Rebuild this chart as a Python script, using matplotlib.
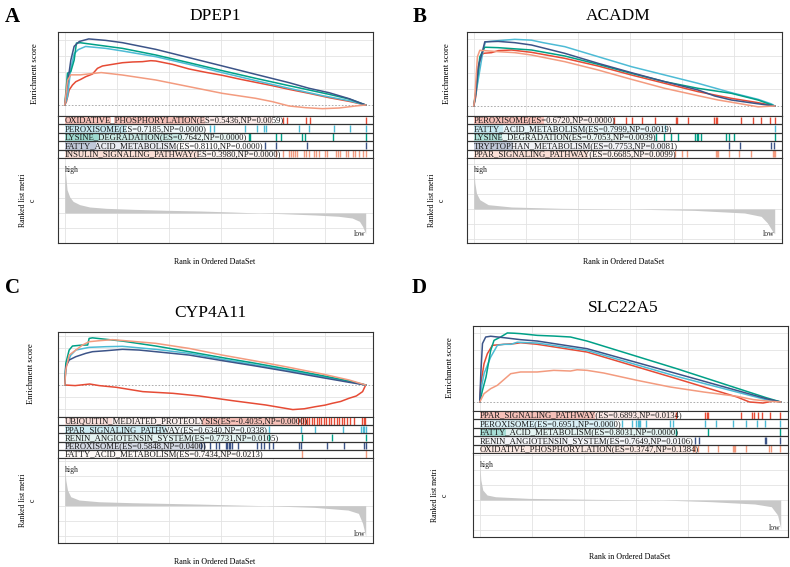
import matplotlib
matplotlib.use('Agg')
import matplotlib.pyplot as plt
from matplotlib.transforms import blended_transform_factory
from matplotlib.patches import Rectangle

plt.rcParams['font.family'] = ['Liberation Serif', 'DejaVu Serif']

W, H = 790, 567
COLORS = ['#E64B35', '#4DBBD5', '#00A087', '#3C5488', '#F39B7F']
N_K = 28.9  # ranks (thousands)

# ---------------- Panel A: DPEP1 ----------------
A_title = "DPEP1"
A_sets = ["OXIDATIVE_PHOSPHORYLATION", "PEROXISOME", "LYSINE_DEGRADATION",
          "FATTY_ACID_METABOLISM", "INSULIN_SIGNALING_PATHWAY"]
A_es = [0.5436, 0.7185, 0.7642, 0.8110, 0.3980]
A_np = [0.0059, 0.0000, 0.0000, 0.0000, 0.0000]
A_curve_rank = [
    [0, 0.16, 0.42, 0.74, 1.06, 1.54, 2.02, 2.66, 3.14, 3.62, 4.58, 5.54, 6.5, 7.46, 8.26, 8.74, 10.34, 11.94, 13.54, 15.14, 16.74, 18.34, 19.94, 21.54, 23.46, 25.38, 27.3, 28.9],
    [0, 0.26, 0.58, 0.9, 1.3, 2.0, 3.94, 5.54, 8.74, 11.94, 15.14, 18.34, 21.54, 24.74, 27.3, 28.9],
    [0, 0.26, 0.58, 0.9, 1.12, 1.5, 3.14, 5.54, 8.74, 11.94, 15.14, 18.34, 21.54, 23.46, 25.38, 27.3, 28.9],
    [0, 0.2, 0.58, 0.9, 1.4, 2.3, 3.94, 5.54, 8.74, 11.94, 15.14, 18.34, 21.54, 23.46, 25.38, 27.3, 28.9],
    [0, 0.26, 0.58, 1.5, 3.5, 5.54, 8.74, 11.94, 15.14, 18.34, 19.94, 21.54, 23.14, 24.74, 26.34, 27.94, 28.9],
]
A_curve_score = [
    [0, 0.041, 0.184, 0.245, 0.286, 0.315, 0.348, 0.38, 0.45, 0.479, 0.499, 0.519, 0.528, 0.532, 0.544, 0.54, 0.499, 0.442, 0.401, 0.364, 0.319, 0.278, 0.237, 0.192, 0.143, 0.09, 0.045, 0],
    [0, 0.1, 0.45, 0.63, 0.68, 0.7185, 0.695, 0.663, 0.593, 0.499, 0.397, 0.299, 0.205, 0.115, 0.053, 0],
    [0, 0.39, 0.41, 0.55, 0.76, 0.7642, 0.736, 0.695, 0.614, 0.519, 0.421, 0.327, 0.237, 0.184, 0.131, 0.074, 0],
    [0, 0.2, 0.55, 0.72, 0.78, 0.811, 0.793, 0.765, 0.683, 0.581, 0.479, 0.376, 0.274, 0.205, 0.151, 0.078, 0],
    [0, 0.3, 0.37, 0.37, 0.398, 0.368, 0.307, 0.225, 0.143, 0.082, 0.041, -0.012, -0.033, -0.045, -0.037, -0.012, 0],
]
A_hits = [
    [20.96, 21.34, 23.2, 23.58, 28.9],
    [13.92, 14.34, 17.28, 18.5, 19.14, 19.36, 22.5, 23.46, 25.86, 27.36, 28.9],
    [17.7, 17.8, 20.32, 20.74, 22.75, 23.07, 25.76, 28.9],
    [19.2, 20.26, 23.3, 28.9],
    [20.26, 20.96, 21.54, 21.7, 21.92, 22.11, 22.34, 22.98, 23.2, 23.46, 23.94, 24.16, 24.42, 25.0, 25.2, 26.0, 26.2, 26.4, 27.0, 27.2, 27.7, 27.9, 28.3, 28.6, 28.9],
]
A_dense = [
    [(0, 4.4, 0.5), (4.7, 12.0, 0.5), (12.0, 13.5, 0.4), (13.5, 20.0, 0.15)],
    [(0, 5.9, 0.45), (5.9, 13.5, 0.12)],
    [(0, 3.3, 0.55), (3.3, 11.3, 0.3), (11.3, 16.7, 0.12)],
    [(0, 3.0, 0.45), (3.0, 10.5, 0.15)],
    [(0, 12.9, 0.45), (12.9, 19.6, 0.15)],
]
A_metric_rank = [0, 0.1, 0.22, 0.48, 0.8, 1.44, 2.39, 3.99, 6.55, 9.74, 12.9, 16.1, 18.7, 20.9, 24.1, 26.3, 27.6, 28.3, 28.6, 28.9]
A_metric = [0.666, 0.49, 0.31, 0.213, 0.155, 0.111, 0.08, 0.062, 0.049, 0.036, 0.027, 0.013, 0, -0.009, -0.027, -0.044, -0.067, -0.111, -0.178, -0.275]

# ---------------- Panel B: ACADM ----------------
B_title = "ACADM"
B_sets = ["PEROXISOME", "FATTY_ACID_METABOLISM", "LYSINE_DEGRADATION",
          "TRYPTOPHAN_METABOLISM", "PPAR_SIGNALING_PATHWAY"]
B_es = [0.6720, 0.7999, 0.7053, 0.7753, 0.6685]
B_np = [0.0000, 0.0019, 0.0039, 0.0081, 0.0099]
B_curve_rank = [
    [0, 0.19, 0.58, 0.9, 1.7, 2.34, 3.62, 5.54, 8.74, 11.94, 15.14, 18.34, 21.54, 24.74, 27.3, 28.9],
    [0, 0.26, 0.58, 0.9, 1.12, 2.34, 3.94, 5.54, 6.66, 8.74, 11.94, 15.14, 18.34, 21.54, 24.74, 27.3, 28.6, 28.9],
    [0, 0.26, 0.58, 1.06, 2.34, 5.54, 8.74, 11.94, 15.14, 18.34, 21.54, 24.74, 27.3, 28.9],
    [0, 0.19, 0.42, 0.74, 1.06, 2.34, 3.94, 5.54, 8.74, 11.94, 15.14, 18.34, 21.54, 23.14, 24.74, 26.98, 28.9],
    [0, 0.1, 0.35, 0.58, 2.34, 3.94, 5.54, 8.74, 11.94, 15.14, 18.34, 21.54, 23.46, 25.38, 27.3, 28.9],
]
B_curve_score = [
    [0, 0.11, 0.55, 0.632, 0.64, 0.664, 0.672, 0.644, 0.572, 0.48, 0.372, 0.272, 0.172, 0.092, 0.04, 0],
    [0, 0.19, 0.43, 0.67, 0.77, 0.784, 0.7999, 0.79, 0.76, 0.712, 0.592, 0.472, 0.372, 0.272, 0.16, 0.08, 0.024, 0],
    [0, 0.23, 0.59, 0.7053, 0.70, 0.672, 0.60, 0.50, 0.392, 0.292, 0.212, 0.152, 0.072, 0],
    [0, 0.15, 0.47, 0.61, 0.77, 0.7753, 0.76, 0.732, 0.632, 0.512, 0.40, 0.292, 0.192, 0.12, 0.072, 0.032, 0],
    [0, 0.11, 0.59, 0.6685, 0.652, 0.64, 0.612, 0.532, 0.432, 0.32, 0.212, 0.124, 0.072, 0.032, -0.01, 0],
]
B_hits = [
    [13.5, 14.6, 15.2, 16.2, 17.4, 19.4, 19.5, 20.6, 23.1, 23.3, 23.4, 25.7, 26.8, 27.6, 28.4, 28.9],
    [18.4, 28.9],
    [17.5, 18.3, 18.9, 19.6, 21.2, 21.4, 21.5, 21.8, 24.2, 24.5, 25.0, 28.9],
    [24.5, 25.6, 28.5, 28.8],
    [19.3, 20.0, 20.5, 23.3, 23.4, 23.5, 24.5, 25.5, 26.6, 28.7, 28.8, 28.9],
]
B_dense = [
    [(0, 6.7, 0.5), (6.7, 12.7, 0.12)],
    [(0, 2.8, 0.45), (2.8, 18.3, 0.18)],
    [(0, 2.7, 0.45), (2.7, 17.5, 0.12)],
    [(0, 3.8, 0.45), (3.8, 18.6, 0.1)],
    [(0, 11.0, 0.45), (11.0, 18.8, 0.18)],
]
B_metric_rank = [0, 0.1, 0.26, 0.58, 1.38, 3.62, 8.4, 14.8, 21.2, 26.0, 27.6, 28.2, 28.7, 28.9]
B_metric = [0.57, 0.35, 0.21, 0.124, 0.058, 0.027, 0.009, 0, -0.018, -0.053, -0.098, -0.186, -0.298, -0.33]

# ---------------- Panel C: CYP4A11 ----------------
C_title = "CYP4A11"
C_sets = ["UBIQUITIN_MEDIATED_PROTEOLYSIS", "PPAR_SIGNALING_PATHWAY",
          "RENIN_ANGIOTENSIN_SYSTEM", "PEROXISOME", "FATTY_ACID_METABOLISM"]
C_es = [-0.4035, 0.6340, 0.7731, 0.5848, 0.7434]
C_np = [0.0000, 0.0338, 0.0105, 0.0400, 0.0213]
C_curve_rank = [
    [0, 1.0, 2.4, 3.3, 4.95, 7.5, 10.4, 12.9, 16.1, 19.3, 21.9, 23.0, 24.1, 25.0, 25.7, 26.5, 27.3, 28.0, 28.6, 28.9],
    [0, 0.1, 0.58, 1.06, 2.34, 3.94, 5.54, 8.74, 11.94, 15.14, 18.34, 21.54, 24.74, 27.3, 28.9],
    [0, 0.1, 0.42, 0.74, 1.7, 2.2, 2.34, 2.66, 5.54, 8.74, 11.94, 15.14, 18.34, 21.54, 24.74, 27.3, 28.9],
    [0, 0.1, 0.42, 1.06, 2.02, 2.66, 3.94, 5.54, 7.14, 8.74, 11.94, 15.14, 18.34, 21.54, 24.74, 27.3, 28.9],
    [0, 0.1, 0.42, 1.06, 1.7, 2.34, 3.3, 4.58, 5.54, 8.74, 11.94, 15.14, 18.34, 21.54, 24.74, 27.3, 28.9],
]
C_curve_score = [
    [0, -0.01, 0.016, -0.01, -0.038, -0.109, -0.137, -0.18, -0.257, -0.328, -0.4035, -0.39, -0.355, -0.33, -0.30, -0.27, -0.218, -0.18, -0.109, 0],
    [0, 0.30, 0.49, 0.573, 0.617, 0.628, 0.634, 0.584, 0.519, 0.42, 0.328, 0.235, 0.137, 0.055, 0],
    [0, 0.355, 0.573, 0.639, 0.655, 0.655, 0.764, 0.7731, 0.72, 0.639, 0.546, 0.448, 0.355, 0.257, 0.153, 0.066, 0],
    [0, 0.3, 0.41, 0.464, 0.519, 0.546, 0.562, 0.5848, 0.573, 0.546, 0.491, 0.399, 0.311, 0.218, 0.12, 0.044, 0],
    [0, 0.25, 0.49, 0.573, 0.655, 0.71, 0.726, 0.7434, 0.73, 0.683, 0.60, 0.49, 0.393, 0.289, 0.18, 0.082, 0],
]
C_hits = [
    [22.4, 22.7, 22.9, 23.1, 23.3, 23.5, 23.7, 23.9, 24.2, 24.4, 24.6, 24.9, 25.1, 25.4, 25.6, 25.9, 26.1, 26.3, 26.6, 26.8, 27.1, 27.4, 27.8, 28.5, 28.7, 28.8],
    [19.6, 22.7, 24.0, 26.7, 28.4, 28.6, 28.7, 28.9],
    [19.6, 22.8, 25.7, 28.9],
    [13.1, 13.4, 13.9, 14.5, 14.8, 15.5, 15.6, 15.8, 15.9, 16.1, 16.6, 18.5, 18.8, 19.1, 19.6, 20.0, 22.5, 22.7, 25.2, 26.8, 28.7, 28.9],
    [22.8, 28.9],
]
C_dense = [
    [(0, 4.5, 0.25), (4.5, 13.2, 0.12), (13.2, 22.3, 0.5)],
    [(0, 9.7, 0.4), (9.7, 19.6, 0.12)],
    [(0, 19.6, 0.15)],
    [(0, 13.2, 0.3)],
    [(0, 18.5, 0.08)],
]
C_metric_rank = [0, 0.1, 0.26, 0.57, 1.37, 3.29, 6.5, 12.9, 19.3, 24.0, 27.2, 28.2, 28.6, 28.9]
C_metric = [0.54, 0.34, 0.21, 0.12, 0.076, 0.053, 0.04, 0.022, 0, -0.022, -0.058, -0.102, -0.235, -0.41]

# ---------------- Panel D: SLC22A5 ----------------
D_title = "SLC22A5"
D_sets = ["PPAR_SIGNALING_PATHWAY", "PEROXISOME", "FATTY_ACID_METABOLISM",
          "RENIN_ANGIOTENSIN_SYSTEM", "OXIDATIVE_PHOSPHORYLATION"]
D_es = [0.6893, 0.6951, 0.8031, 0.7649, 0.3747]
D_np = [0.0134, 0.0000, 0.0000, 0.0106, 0.1384]
D_curve_rank = [
    [0, 0.1, 0.41, 0.73, 1.21, 2.33, 3.29, 3.92, 5.52, 10.3, 18.9, 24.7, 25.9, 27.2, 28.2, 28.9],
    [0, 0.1, 0.41, 1.05, 1.69, 2.33, 3.0, 3.6, 5.52, 10.3, 18.9, 27.5, 28.9],
    [0, 0.26, 0.6, 1.05, 1.37, 2.0, 2.65, 3.29, 3.92, 5.52, 7.11, 8.71, 10.3, 18.9, 27.5, 28.9],
    [0, 0.1, 0.26, 0.57, 1.05, 2.33, 3.92, 5.52, 10.3, 18.9, 27.5, 28.9],
    [0, 0.41, 1.05, 1.69, 2.97, 3.92, 5.52, 7.11, 8.71, 9.35, 10.3, 11.9, 15.1, 18.3, 21.5, 24.7, 26.3, 27.8, 28.9],
]
D_curve_score = [
    [0, 0.213, 0.446, 0.562, 0.659, 0.671, 0.678, 0.6893, 0.671, 0.581, 0.271, 0.058, 0, -0.012, 0.012, 0],
    [0, 0.13, 0.33, 0.523, 0.659, 0.671, 0.671, 0.6951, 0.686, 0.60, 0.298, 0.027, 0],
    [0, 0.136, 0.29, 0.60, 0.717, 0.756, 0.8031, 0.80, 0.795, 0.775, 0.767, 0.756, 0.709, 0.388, 0.05, 0],
    [0, 0.33, 0.68, 0.756, 0.7649, 0.748, 0.725, 0.709, 0.62, 0.33, 0.039, 0],
    [0, 0.097, 0.155, 0.194, 0.329, 0.349, 0.349, 0.368, 0.36, 0.3747, 0.368, 0.337, 0.252, 0.174, 0.116, 0.066, 0.027, 0.008, 0],
]
D_hits = [
    [18.8, 21.6, 21.8, 21.9, 25.1, 26.1, 26.3, 26.7, 27.1, 27.9, 28.8],
    [13.7, 14.6, 15.0, 15.2, 15.3, 15.4, 16.0, 18.3, 18.6, 21.6, 22.7, 24.3, 25.6, 26.6, 27.4, 28.8],
    [18.8, 21.9, 28.8],
    [20.7, 21.1, 27.4, 27.5, 28.8],
    [20.5, 20.7, 21.0, 21.9, 22.9, 24.3, 24.4, 24.5, 25.6, 27.8, 28.0, 28.8],
]
D_dense = [
    [(0, 11.1, 0.5), (11.1, 18.8, 0.18)],
    [(0, 13.0, 0.3)],
    [(0, 2.5, 0.5), (2.5, 18.8, 0.15)],
    [(0, 19.7, 0.08)],
    [(0, 20.2, 0.3)],
]
D_metric_rank = [0, 0.1, 0.29, 0.7, 1.5, 4.69, 11.1, 17.5, 22.2, 26.4, 28.0, 28.6, 28.9]
D_metric = [0.49, 0.27, 0.133, 0.067, 0.044, 0.022, 0.009, 0, -0.022, -0.053, -0.089, -0.2, -0.38]

# ---------------- layout (pixels) ----------------
fig = plt.figure(figsize=(7.9, 5.67), dpi=100)


def px_axes(x0, y0, x1, y1):
    return fig.add_axes([x0 / W, 1 - y1 / H, (x1 - x0) / W, (y1 - y0) / H])


def style_box(ax):
    for s in ax.spines.values():
        s.set_color('#333333')
        s.set_linewidth(0.8)
    ax.tick_params(length=0, labelleft=False, labelbottom=False)


def yticks_in(lo, hi, step=0.2, include_zero=True):
    out = []
    k = int(lo / step) - 1
    while k * step <= hi:
        v = round(k * step, 6)
        if lo < v < hi and (include_zero or abs(v) > 1e-9):
            out.append(v)
        k += 1
    return out


XLIM = (-0.65, 29.6)
XGRID = [0, 5, 10, 15, 20, 25]
SHADE = 0.7


def panel(letter, title, sets, es, nps, c_rank, c_score, hits, dense, m_rank, m_val,
          box, es_ylim, m_ylim, pos):
    x0, x1, es_top, rows_top, rank_top, rank_bot = box
    # enrichment score axes
    ax = px_axes(x0, es_top, x1, rows_top)
    ax.set_xlim(*XLIM)
    ax.set_ylim(*es_ylim)
    ax.set_xticks(XGRID)
    ax.set_yticks(yticks_in(es_ylim[0], es_ylim[1], include_zero=False))
    ax.grid(True, color='#e3e3e3', lw=0.6)
    ax.set_axisbelow(True)
    ax.axhline(0, color='#a0a0a0', lw=0.6, ls=(0, (2, 2)), zorder=1)
    for i in range(5):
        ax.plot(c_rank[i], c_score[i], color=COLORS[i], lw=1.1, zorder=3,
                solid_joinstyle='round')
    style_box(ax)

    # hit rows
    axr = px_axes(x0, rows_top, x1, rank_top)
    axr.set_xlim(*XLIM)
    axr.set_ylim(5, 0)
    for i in range(5):
        for (s, e, a) in dense[i]:
            axr.add_patch(Rectangle((s, i), e - s, 1, facecolor=COLORS[i],
                                    alpha=a * SHADE, lw=0, zorder=1))
        axr.vlines(hits[i], i + 0.06, i + 0.94, color=COLORS[i], lw=1.0, zorder=2)
        label = f"{sets[i]}(ES={es[i]:.4f},NP={nps[i]:.4f})"
        axr.text(0.0, i + 0.55, label, fontsize=6.2, va='center', ha='left',
                 color='#1a1a1a', zorder=4)
    for k in range(1, 5):
        axr.axhline(k, color='#333333', lw=0.9, zorder=5)
    style_box(axr)
    axr.set_xticks([])
    axr.set_yticks([])

    # ranked list metric
    axm = px_axes(x0, rank_top, x1, rank_bot)
    axm.set_xlim(*XLIM)
    axm.set_ylim(*m_ylim)
    axm.set_xticks(XGRID)
    axm.set_yticks(yticks_in(m_ylim[0], m_ylim[1]))
    axm.grid(True, color='#e3e3e3', lw=0.6)
    axm.set_axisbelow(True)
    axm.fill_between(m_rank, 0, m_val, color='#c8c8c8', lw=0, zorder=2)
    trans = blended_transform_factory(axm.transData, axm.transAxes)
    axm.text(0.0, 0.86, 'high', transform=trans, fontsize=5.6, ha='left', va='center', color='#222')
    axm.text(N_K, 0.11, 'low', transform=trans, fontsize=5.6, ha='right', va='center', color='#222')
    style_box(axm)

    # texts
    lx, ly = pos['letter']
    fig.text(lx / W, 1 - ly / H, letter, fontsize=15, fontweight='bold', ha='left', va='baseline')
    tx, ty = pos['title']
    fig.text(tx / W, 1 - ty / H, title, fontsize=12.5, ha='center', va='baseline')
    ex, ey = pos['es_label']
    fig.text(ex / W, 1 - ey / H, 'Enrichment score', fontsize=6.2, rotation=90,
             ha='center', va='center')
    rx, ry = pos['rank_label']
    fig.text(rx / W, 1 - ry / H, 'Ranked list metri\nc', fontsize=5.6, rotation=90,
             ha='center', va='center', multialignment='center', linespacing=1.35)
    xx, xy = pos['xlabel']
    fig.text(xx / W, 1 - xy / H, 'Rank in Ordered DataSet', fontsize=5.8,
             ha='center', va='center')


panel('A', A_title, A_sets, A_es, A_np, A_curve_rank, A_curve_score, A_hits, A_dense,
      A_metric_rank, A_metric, (58, 373, 32, 116, 158, 243), (-0.135, 0.896), (-0.40, 0.733),
      dict(letter=(5, 21.5), title=(215, 20), es_label=(35, 74), rank_label=(28, 200), xlabel=(215, 262)))
panel('B', B_title, B_sets, B_es, B_np, B_curve_rank, B_curve_score, B_hits, B_dense,
      B_metric_rank, B_metric, (467, 782, 32, 116, 158, 243), (-0.12, 0.888), (-0.453, 0.68),
      dict(letter=(413, 21.5), title=(618, 20), es_label=(447, 74), rank_label=(437, 200), xlabel=(624, 262)))
panel('C', C_title, C_sets, C_es, C_np, C_curve_rank, C_curve_score, C_hits, C_dense,
      C_metric_rank, C_metric, (58, 373, 332, 417, 458, 543), (-0.525, 0.869), (-0.497, 0.636),
      dict(letter=(5, 293), title=(210, 317), es_label=(31, 374), rank_label=(28, 500), xlabel=(215, 562)))
panel('D', D_title, D_sets, D_es, D_np, D_curve_rank, D_curve_score, D_hits, D_dense,
      D_metric_rank, D_metric, (473, 788, 326, 411, 453, 537), (-0.105, 0.884), (-0.493, 0.627),
      dict(letter=(412, 293), title=(623, 312), es_label=(450, 368), rank_label=(440, 495), xlabel=(630, 557)))

fig.savefig('out.png', dpi=100)
